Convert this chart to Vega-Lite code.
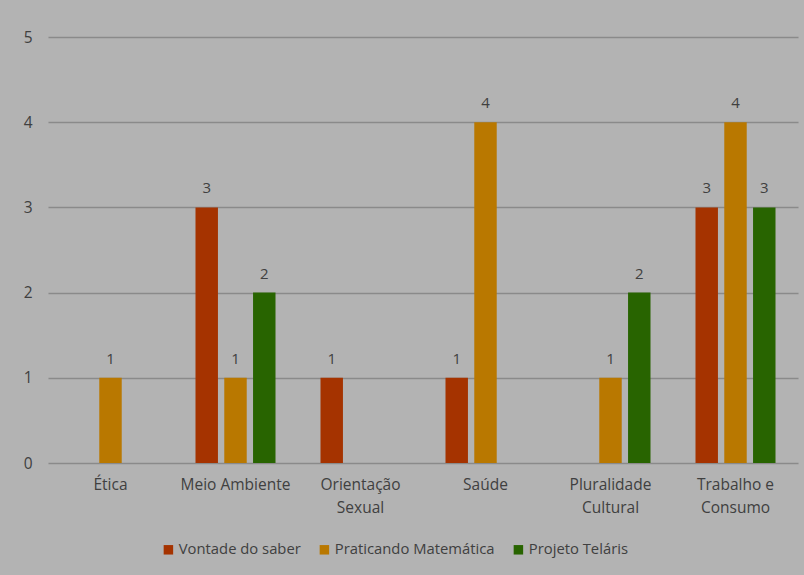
{
  "$schema": "https://vega.github.io/schema/vega-lite/v6.json",
  "width": 750,
  "height": 426,
  "autosize": {"type": "none"},
  "padding": {"left": 48, "top": 37, "right": 6, "bottom": 112},
  "background": "#b3b3b3",
  "config": {
    "view": {"stroke": null},
    "font": "Open Sans",
    "axis": {"labelFont": "Open Sans", "labelColor": "#404040", "labelFontSize": 15.5},
    "legend": {"labelFont": "Open Sans", "labelColor": "#404040", "labelFontSize": 14.8, "labelLimit": 400}
  },
  "data": {
    "values": [
      {"tema": "Ética", "serie": "Vontade do saber", "valor": 0},
      {"tema": "Ética", "serie": "Praticando Matemática", "valor": 1},
      {"tema": "Ética", "serie": "Projeto Teláris", "valor": 0},
      {"tema": "Meio Ambiente", "serie": "Vontade do saber", "valor": 3},
      {"tema": "Meio Ambiente", "serie": "Praticando Matemática", "valor": 1},
      {"tema": "Meio Ambiente", "serie": "Projeto Teláris", "valor": 2},
      {"tema": "Orientação Sexual", "serie": "Vontade do saber", "valor": 1},
      {"tema": "Orientação Sexual", "serie": "Praticando Matemática", "valor": 0},
      {"tema": "Orientação Sexual", "serie": "Projeto Teláris", "valor": 0},
      {"tema": "Saúde", "serie": "Vontade do saber", "valor": 1},
      {"tema": "Saúde", "serie": "Praticando Matemática", "valor": 4},
      {"tema": "Saúde", "serie": "Projeto Teláris", "valor": 0},
      {"tema": "Pluralidade Cultural", "serie": "Vontade do saber", "valor": 0},
      {"tema": "Pluralidade Cultural", "serie": "Praticando Matemática", "valor": 1},
      {"tema": "Pluralidade Cultural", "serie": "Projeto Teláris", "valor": 2},
      {"tema": "Trabalho e Consumo", "serie": "Vontade do saber", "valor": 3},
      {"tema": "Trabalho e Consumo", "serie": "Praticando Matemática", "valor": 4},
      {"tema": "Trabalho e Consumo", "serie": "Projeto Teláris", "valor": 3}
    ]
  },
  "encoding": {
    "x": {
      "field": "tema",
      "type": "nominal",
      "sort": null,
      "scale": {"paddingInner": 0.36, "paddingOuter": 0.18},
      "axis": {
        "title": null,
        "labelAngle": 0,
        "ticks": false,
        "domain": false,
        "labelPadding": 14,
        "labelLineHeight": 23,
        "labelExpr": "datum.label == 'Orientação Sexual' ? ['Orientação', 'Sexual'] : datum.label == 'Pluralidade Cultural' ? ['Pluralidade', 'Cultural'] : datum.label == 'Trabalho e Consumo' ? ['Trabalho e', 'Consumo'] : datum.label"
      }
    },
    "xOffset": {
      "field": "serie",
      "type": "nominal",
      "sort": ["Vontade do saber", "Praticando Matemática", "Projeto Teláris"],
      "scale": {"domain": ["Vontade do saber", "Praticando Matemática", "Projeto Teláris"], "paddingInner": 0.22}
    },
    "y": {
      "field": "valor",
      "type": "quantitative",
      "scale": {"domain": [0, 5], "nice": false},
      "axis": {
        "title": null,
        "values": [0, 1, 2, 3, 4, 5],
        "labelOverlap": false,
        "ticks": false,
        "domain": false,
        "labelPadding": 16,
        "grid": true,
        "gridColor": "#8a8a8a",
        "gridWidth": 1.5
      }
    }
  },
  "layer": [
    {
      "mark": {"type": "bar"},
      "encoding": {
        "color": {
          "field": "serie",
          "type": "nominal",
          "sort": ["Vontade do saber", "Praticando Matemática", "Projeto Teláris"],
          "scale": {
            "domain": ["Vontade do saber", "Praticando Matemática", "Projeto Teláris"],
            "range": ["#a53300", "#b97800", "#286400"]
          },
          "legend": {
            "title": null,
            "orient": "none",
            "legendX": 113,
            "legendY": 505,
            "direction": "horizontal",
            "symbolType": "square",
            "symbolSize": 90,
            "symbolStrokeWidth": 0,
            "symbolOpacity": 1,
            "labelOffset": 3,
            "labelLimit": 400,
            "columnPadding": 16
          }
        }
      }
    },
    {
      "transform": [{"filter": "datum.valor > 0"}],
      "mark": {"type": "text", "baseline": "alphabetic", "dy": -14, "fontSize": 15, "color": "#404040", "font": "Open Sans"},
      "encoding": {
        "text": {"field": "valor", "type": "quantitative"}
      }
    }
  ]
}
